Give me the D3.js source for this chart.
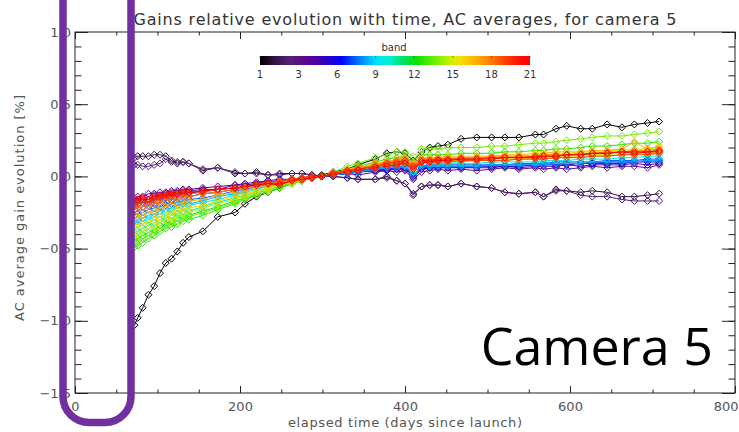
<!DOCTYPE html>
<html>
<head>
<meta charset="utf-8">
<script src="https://cdn.jsdelivr.net/npm/d3@7"></script>
<style>
  body { margin: 0; background: #fff; }
  svg { display: block; }
  text { font-family: "DejaVu Sans", sans-serif; }
</style>
</head>
<body>
<div id="chart"></div>
<script>
// elapsed days of each measurement
const days = [72, 76, 82, 89, 96, 103, 110, 117, 124, 131, 138, 155, 173, 194, 206, 220, 234, 248, 263, 275, 287, 299,
  313, 330, 343, 364, 378, 390, 400, 410, 420, 430, 440, 452, 468, 487, 505, 521, 538, 558, 568, 583, 596, 613, 627, 645, 663, 678, 694, 708];

// AC average gain evolution [%], one array per band
const band1 = [-1.03, -0.98, -0.91, -0.82, -0.76, -0.67, -0.60, -0.57, -0.52, -0.46, -0.42, -0.38, -0.28, -0.25, -0.19, -0.14, -0.11, -0.08, -0.05, -0.03, -0.01, 0.01,
  0.03, 0.05, 0.08, 0.12, 0.16, 0.17, 0.16, 0.11, 0.17, 0.20, 0.21, 0.22, 0.26, 0.27, 0.27, 0.27, 0.27, 0.29, 0.29, 0.33, 0.35, 0.33, 0.33, 0.36, 0.34, 0.36, 0.37, 0.38];
const band2 = [0.13, 0.14, 0.14, 0.14, 0.15, 0.15, 0.14, 0.11, 0.09, 0.10, 0.09, 0.04, 0.06, 0.02, 0.02, 0.03, 0.01, 0.02, 0.02, 0.02, 0.01, 0.00,
  0.00, -0.01, -0.02, -0.02, 0.00, -0.03, -0.05, -0.13, -0.07, -0.06, -0.06, -0.07, -0.05, -0.07, -0.08, -0.11, -0.12, -0.11, -0.14, -0.09, -0.10, -0.11, -0.10, -0.11, -0.14, -0.14, -0.13, -0.12];
const band3 = [0.08, 0.08, 0.07, 0.07, 0.08, 0.09, 0.12, 0.10, 0.10, 0.10, 0.09, 0.05, 0.06, 0.03, 0.02, 0.02, 0.01, 0.01, 0.02, 0.02, 0.01, 0.00,
  0.00, -0.01, -0.02, -0.02, -0.01, -0.03, -0.05, -0.12, -0.07, -0.06, -0.06, -0.07, -0.05, -0.07, -0.08, -0.11, -0.12, -0.11, -0.14, -0.10, -0.10, -0.13, -0.14, -0.14, -0.16, -0.17, -0.17, -0.17];
const band4 = [-0.18, -0.17, -0.15, -0.16, -0.13, -0.14, -0.12, -0.13, -0.11, -0.12, -0.10, -0.09, -0.09, -0.06, -0.06, -0.05, -0.03, -0.04, -0.02, -0.01, 0.00, 0.00,
  0.01, 0.02, 0.01, 0.03, 0.04, 0.03, 0.04, -0.02, 0.03, 0.04, 0.05, 0.04, 0.05, 0.04, 0.05, 0.06, 0.05, 0.06, 0.05, 0.06, 0.05, 0.06, 0.07, 0.06, 0.07, 0.07, 0.06, 0.08];
const band5 = [-0.15, -0.14, -0.14, -0.12, -0.12, -0.11, -0.11, -0.10, -0.10, -0.09, -0.09, -0.08, -0.07, -0.06, -0.05, -0.04, -0.03, -0.02, -0.02, -0.01, 0.00, 0.00,
  0.01, 0.02, 0.03, 0.04, 0.04, 0.05, 0.05, -0.01, 0.05, 0.06, 0.06, 0.06, 0.06, 0.06, 0.06, 0.07, 0.06, 0.07, 0.07, 0.07, 0.08, 0.07, 0.08, 0.08, 0.08, 0.09, 0.08, 0.09];
const band6 = [-0.20, -0.19, -0.18, -0.18, -0.16, -0.15, -0.15, -0.13, -0.13, -0.12, -0.12, -0.10, -0.09, -0.08, -0.07, -0.05, -0.04, -0.03, -0.02, -0.01, -0.01, 0.00,
  0.01, 0.02, 0.03, 0.04, 0.05, 0.05, 0.06, 0.00, 0.06, 0.06, 0.06, 0.07, 0.06, 0.07, 0.07, 0.07, 0.07, 0.08, 0.08, 0.08, 0.08, 0.09, 0.09, 0.09, 0.09, 0.10, 0.10, 0.10];
const band7 = [-0.23, -0.22, -0.21, -0.20, -0.19, -0.18, -0.17, -0.16, -0.15, -0.14, -0.14, -0.12, -0.11, -0.09, -0.07, -0.06, -0.05, -0.04, -0.02, -0.01, -0.01, 0.00,
  0.01, 0.02, 0.03, 0.05, 0.05, 0.06, 0.07, 0.01, 0.07, 0.07, 0.07, 0.07, 0.07, 0.07, 0.08, 0.08, 0.08, 0.08, 0.08, 0.09, 0.09, 0.09, 0.09, 0.10, 0.10, 0.10, 0.11, 0.11];
const band8 = [-0.27, -0.26, -0.25, -0.23, -0.22, -0.21, -0.20, -0.19, -0.18, -0.17, -0.16, -0.15, -0.13, -0.10, -0.09, -0.07, -0.06, -0.04, -0.03, -0.02, -0.01, 0.00,
  0.01, 0.03, 0.04, 0.05, 0.06, 0.07, 0.07, 0.01, 0.07, 0.08, 0.08, 0.08, 0.08, 0.08, 0.08, 0.08, 0.09, 0.09, 0.09, 0.10, 0.10, 0.10, 0.10, 0.11, 0.11, 0.11, 0.12, 0.12];
const band9 = [-0.31, -0.30, -0.29, -0.27, -0.26, -0.24, -0.23, -0.22, -0.20, -0.19, -0.19, -0.17, -0.14, -0.12, -0.10, -0.08, -0.07, -0.05, -0.03, -0.02, -0.01, 0.00,
  0.01, 0.02, 0.03, 0.05, 0.06, 0.06, 0.07, 0.01, 0.07, 0.07, 0.07, 0.07, 0.07, 0.07, 0.08, 0.08, 0.08, 0.08, 0.08, 0.09, 0.09, 0.09, 0.10, 0.10, 0.10, 0.10, 0.11, 0.11];
const band10 = [-0.34, -0.33, -0.31, -0.30, -0.28, -0.26, -0.25, -0.24, -0.22, -0.21, -0.20, -0.18, -0.16, -0.13, -0.11, -0.09, -0.07, -0.05, -0.03, -0.02, -0.01, 0.00,
  0.01, 0.03, 0.04, 0.06, 0.07, 0.08, 0.08, 0.03, 0.09, 0.09, 0.09, 0.09, 0.09, 0.09, 0.10, 0.10, 0.10, 0.10, 0.11, 0.11, 0.11, 0.12, 0.12, 0.12, 0.13, 0.13, 0.14, 0.14];
const band11 = [-0.39, -0.38, -0.36, -0.34, -0.32, -0.30, -0.29, -0.27, -0.26, -0.24, -0.24, -0.21, -0.18, -0.15, -0.13, -0.11, -0.08, -0.06, -0.04, -0.02, -0.01, 0.00,
  0.02, 0.04, 0.05, 0.07, 0.08, 0.09, 0.10, 0.05, 0.10, 0.10, 0.10, 0.10, 0.10, 0.11, 0.11, 0.11, 0.12, 0.12, 0.12, 0.13, 0.13, 0.13, 0.14, 0.14, 0.15, 0.15, 0.16, 0.16];
const band12 = [-0.44, -0.43, -0.41, -0.39, -0.37, -0.34, -0.33, -0.31, -0.29, -0.28, -0.27, -0.24, -0.21, -0.17, -0.15, -0.12, -0.09, -0.07, -0.04, -0.03, -0.01, 0.00,
  0.02, 0.04, 0.05, 0.08, 0.09, 0.10, 0.11, 0.06, 0.11, 0.11, 0.11, 0.12, 0.12, 0.12, 0.12, 0.13, 0.13, 0.13, 0.14, 0.14, 0.15, 0.15, 0.15, 0.16, 0.17, 0.17, 0.17, 0.18];
const band13 = [-0.49, -0.48, -0.46, -0.43, -0.41, -0.38, -0.36, -0.35, -0.33, -0.31, -0.30, -0.27, -0.23, -0.19, -0.16, -0.13, -0.11, -0.08, -0.05, -0.03, -0.01, 0.00,
  0.02, 0.05, 0.07, 0.10, 0.12, 0.13, 0.14, 0.10, 0.15, 0.15, 0.15, 0.15, 0.16, 0.16, 0.16, 0.17, 0.17, 0.18, 0.18, 0.19, 0.19, 0.20, 0.21, 0.21, 0.22, 0.23, 0.23, 0.24];
const band14 = [-0.46, -0.45, -0.43, -0.41, -0.38, -0.36, -0.34, -0.32, -0.31, -0.29, -0.28, -0.25, -0.22, -0.18, -0.15, -0.13, -0.10, -0.07, -0.05, -0.03, -0.01, 0.00,
  0.03, 0.07, 0.09, 0.13, 0.15, 0.17, 0.17, 0.14, 0.19, 0.19, 0.19, 0.20, 0.20, 0.20, 0.21, 0.21, 0.22, 0.23, 0.23, 0.24, 0.25, 0.26, 0.27, 0.28, 0.28, 0.29, 0.30, 0.31];
const band15 = [-0.41, -0.40, -0.38, -0.36, -0.34, -0.32, -0.30, -0.29, -0.27, -0.26, -0.25, -0.22, -0.19, -0.16, -0.14, -0.11, -0.09, -0.06, -0.04, -0.02, -0.01, 0.00,
  0.02, 0.04, 0.06, 0.08, 0.10, 0.11, 0.12, 0.08, 0.12, 0.12, 0.13, 0.13, 0.13, 0.13, 0.14, 0.14, 0.14, 0.15, 0.15, 0.16, 0.16, 0.17, 0.17, 0.18, 0.18, 0.19, 0.19, 0.20];
const band16 = [-0.36, -0.35, -0.33, -0.31, -0.30, -0.28, -0.27, -0.25, -0.24, -0.22, -0.22, -0.20, -0.17, -0.14, -0.12, -0.10, -0.08, -0.06, -0.04, -0.02, -0.01, 0.00,
  0.02, 0.04, 0.05, 0.07, 0.09, 0.10, 0.10, 0.06, 0.11, 0.11, 0.11, 0.11, 0.11, 0.11, 0.12, 0.12, 0.12, 0.13, 0.13, 0.13, 0.14, 0.14, 0.15, 0.15, 0.16, 0.16, 0.16, 0.17];
const band17 = [-0.29, -0.28, -0.27, -0.25, -0.24, -0.22, -0.21, -0.20, -0.19, -0.18, -0.17, -0.16, -0.13, -0.11, -0.10, -0.08, -0.06, -0.04, -0.03, -0.02, -0.01, 0.00,
  0.02, 0.05, 0.06, 0.09, 0.10, 0.12, 0.13, 0.09, 0.13, 0.13, 0.13, 0.14, 0.14, 0.14, 0.14, 0.15, 0.15, 0.16, 0.16, 0.17, 0.17, 0.17, 0.18, 0.18, 0.19, 0.24, 0.19, 0.21];
const band18 = [-0.23, -0.22, -0.21, -0.20, -0.19, -0.18, -0.17, -0.16, -0.15, -0.14, -0.14, -0.12, -0.11, -0.09, -0.08, -0.06, -0.05, -0.04, -0.02, -0.01, -0.01, 0.00,
  0.02, 0.04, 0.06, 0.08, 0.10, 0.11, 0.12, 0.08, 0.12, 0.12, 0.12, 0.12, 0.13, 0.13, 0.13, 0.14, 0.14, 0.14, 0.15, 0.15, 0.15, 0.16, 0.16, 0.17, 0.17, 0.18, 0.18, 0.19];
const band19 = [-0.20, -0.19, -0.18, -0.17, -0.16, -0.15, -0.14, -0.14, -0.13, -0.12, -0.12, -0.11, -0.09, -0.08, -0.07, -0.05, -0.04, -0.03, -0.02, -0.01, 0.00, 0.00,
  0.02, 0.04, 0.05, 0.07, 0.08, 0.09, 0.10, 0.06, 0.10, 0.10, 0.10, 0.10, 0.11, 0.11, 0.11, 0.11, 0.12, 0.12, 0.12, 0.13, 0.13, 0.13, 0.14, 0.14, 0.15, 0.15, 0.15, 0.16];
const band20 = [-0.17, -0.17, -0.16, -0.16, -0.15, -0.14, -0.13, -0.12, -0.12, -0.11, -0.11, -0.10, -0.09, -0.08, -0.07, -0.06, -0.05, -0.05, -0.03, -0.02, -0.01, 0.00,
  0.02, 0.04, 0.05, 0.07, 0.09, 0.10, 0.11, 0.07, 0.11, 0.11, 0.12, 0.12, 0.12, 0.12, 0.13, 0.13, 0.13, 0.14, 0.14, 0.14, 0.15, 0.15, 0.16, 0.16, 0.17, 0.17, 0.17, 0.18];
const band21 = [-0.15, -0.16, -0.15, -0.16, -0.14, -0.13, -0.12, -0.11, -0.12, -0.10, -0.11, -0.10, -0.09, -0.08, -0.07, -0.06, -0.05, -0.06, -0.03, -0.02, -0.01, 0.00,
  0.01, 0.03, 0.04, 0.06, 0.07, 0.08, 0.09, 0.05, 0.10, 0.10, 0.11, 0.11, 0.12, 0.12, 0.12, 0.13, 0.13, 0.13, 0.14, 0.14, 0.15, 0.15, 0.16, 0.16, 0.17, 0.16, 0.17, 0.17];

const bandSeries = [band1, band2, band3, band4, band5, band6, band7, band8, band9, band10, band11,
  band12, band13, band14, band15, band16, band17, band18, band19, band20, band21];

const xMajorTicks = [0, 200, 400, 600, 800];
const yMajorTicks = [-1.5, -1.0, -0.5, 0.0, 0.5, 1.0];
const yTickLabels = ["\u22121.5", "\u22121.0", "\u22120.5", "0.0", "0.5", "1.0"];
const colorbarLabels = ["1", "3", "6", "9", "12", "15", "18", "21"];

// rainbow colour table, position 0..1 along the band colorbar
const cmapPos = [0, 0.05, 0.11, 0.19, 0.26, 0.30, 0.37, 0.43, 0.48, 0.53, 0.58, 0.66, 0.71, 0.74, 0.80, 0.85, 0.91, 0.96, 1];
const cmapColors = ["#000000", "#301040", "#56207a", "#5a0096", "#2000d0", "#0000ff", "#0080ff", "#00e0ff", "#00f0d0",
  "#00e060", "#10e000", "#80f000", "#d0f000", "#f8e000", "#ffb000", "#ff8000", "#ff4000", "#ff1000", "#ff0000"];

const W = 739, H = 432;
const svg = d3.select("#chart").append("svg").attr("width", W).attr("height", H);

const x = d3.scaleLinear().domain([0, 800]).range([75, 735]);
const y = d3.scaleLinear().domain([-1.5, 1.0]).range([393, 32]);
const cmap = d3.scaleLinear().domain(cmapPos).range(cmapColors);
const bandColor = b => cmap((b - 1) / 20);

const axisColor = "#222";
const labelColor = "#555";

// axes, IDL style: ticks inside on all four sides
function styleAxis(g) {
  g.select(".domain").remove();
  g.selectAll(".tick line").attr("stroke", axisColor);
  g.selectAll(".tick text").attr("fill", labelColor).attr("font-size", 13);
}
const xMinor = d3.range(0, 801, 50);
const yMinor = d3.range(-15, 11).map(d => d / 10);

svg.append("g").attr("transform", `translate(0,${y(-1.5)})`)
  .call(d3.axisBottom(x).tickValues(xMinor).tickSize(-3.5).tickFormat("")).call(styleAxis);
const xAxisG = svg.append("g").attr("transform", `translate(0,${y(-1.5)})`)
  .call(d3.axisBottom(x).tickValues(xMajorTicks).tickSize(-7).tickPadding(9).tickFormat(d3.format("d"))).call(styleAxis);
// last label sits on the right edge of the window: keep it inside
xAxisG.selectAll(".tick text").filter(d => d === 800).attr("text-anchor", "end").attr("x", 3);

svg.append("g").attr("transform", `translate(0,${y(1.0)})`)
  .call(d3.axisTop(x).tickValues(xMinor).tickSize(-3.5).tickFormat("")).call(styleAxis);
svg.append("g").attr("transform", `translate(0,${y(1.0)})`)
  .call(d3.axisTop(x).tickValues(xMajorTicks).tickSize(-7).tickFormat("")).call(styleAxis);

svg.append("g").attr("transform", `translate(${x(0)},0)`)
  .call(d3.axisLeft(y).tickValues(yMinor).tickSize(-6.5).tickFormat("")).call(styleAxis);
svg.append("g").attr("transform", `translate(${x(0)},0)`)
  .call(d3.axisLeft(y).tickValues(yMajorTicks).tickSize(-13).tickPadding(4)
    .tickFormat((d, i) => yTickLabels[i])).call(styleAxis);
svg.append("g").attr("transform", `translate(${x(800)},0)`)
  .call(d3.axisRight(y).tickValues(yMinor).tickSize(-6.5).tickFormat("")).call(styleAxis);
svg.append("g").attr("transform", `translate(${x(800)},0)`)
  .call(d3.axisRight(y).tickValues(yMajorTicks).tickSize(-13).tickFormat("")).call(styleAxis);

svg.append("rect")
  .attr("x", x(0)).attr("y", y(1.0))
  .attr("width", x(800) - x(0)).attr("height", y(-1.5) - y(1.0))
  .attr("fill", "none").attr("stroke", axisColor).attr("stroke-width", 1);

// series
const line = d3.line().x((d, i) => x(days[i])).y(d => y(d));
const diamond = "M0,-3.5L3.5,0L0,3.5L-3.5,0Z";
const plot = svg.append("g");
bandSeries.forEach((vals, k) => {
  const c = bandColor(k + 1);
  plot.append("path")
    .attr("d", line(vals))
    .attr("fill", "none")
    .attr("stroke", c)
    .attr("stroke-width", 1);
  plot.append("g").selectAll("path")
    .data(vals)
    .join("path")
    .attr("d", diamond)
    .attr("transform", (d, i) => `translate(${x(days[i])},${y(d)})`)
    .attr("fill", "none")
    .attr("stroke", c)
    .attr("stroke-width", 1);
});

// titles
svg.append("text")
  .attr("x", 405).attr("y", 25)
  .attr("text-anchor", "middle")
  .attr("font-size", 16).attr("fill", "#333")
  .attr("textLength", 543)
  .text("Gains relative evolution with time, AC averages, for camera 5");

svg.append("text")
  .attr("x", 405).attr("y", 427)
  .attr("text-anchor", "middle")
  .attr("font-size", 13).attr("fill", labelColor)
  .attr("textLength", 234)
  .text("elapsed time (days since launch)");

svg.append("text")
  .attr("transform", "translate(24,208) rotate(-90)")
  .attr("text-anchor", "middle")
  .attr("font-size", 13).attr("fill", labelColor)
  .attr("textLength", 226)
  .text("AC average gain evolution [%]");

// band colorbar
const cbX = d3.scaleLinear().domain([0, 1]).range([260, 530]);
const cbLab = d3.scalePoint().domain(colorbarLabels).range([260, 530]);
const grad = svg.append("defs").append("linearGradient").attr("id", "cbgrad");
grad.selectAll("stop").data(cmapPos).join("stop")
  .attr("offset", d => d)
  .attr("stop-color", (d, i) => cmapColors[i]);
svg.append("rect")
  .attr("x", cbX(0)).attr("y", 56)
  .attr("width", cbX(1) - cbX(0)).attr("height", 9)
  .attr("fill", "url(#cbgrad)");
svg.append("g").selectAll("line").data(colorbarLabels).join("line")
  .attr("x1", d => cbLab(d)).attr("x2", d => cbLab(d))
  .attr("y1", 56).attr("y2", 58)
  .attr("stroke", "#333").attr("stroke-opacity", 0.6);
svg.append("g").selectAll("text").data(colorbarLabels).join("text")
  .attr("x", d => cbLab(d)).attr("y", 78)
  .attr("text-anchor", "middle")
  .attr("font-size", 10).attr("fill", "#333")
  .text(d => d);
svg.append("text")
  .attr("x", 394).attr("y", 51)
  .attr("text-anchor", "middle")
  .attr("font-size", 10).attr("fill", "#333")
  .text("band");

// annotation overlay
svg.append("text")
  .attr("x", 713).attr("y", 365)
  .attr("text-anchor", "end")
  .style("font-family", "'Open Sans', sans-serif")
  .attr("font-size", 52).attr("fill", "#000")
  .text("Camera 5");

svg.append("rect")
  .attr("x", 63).attr("y", -60)
  .attr("width", 68).attr("height", 482.5)
  .attr("rx", 26).attr("ry", 26)
  .attr("fill", "none")
  .attr("stroke", "#7030a0")
  .attr("stroke-width", 7.5);
</script>
</body>
</html>
